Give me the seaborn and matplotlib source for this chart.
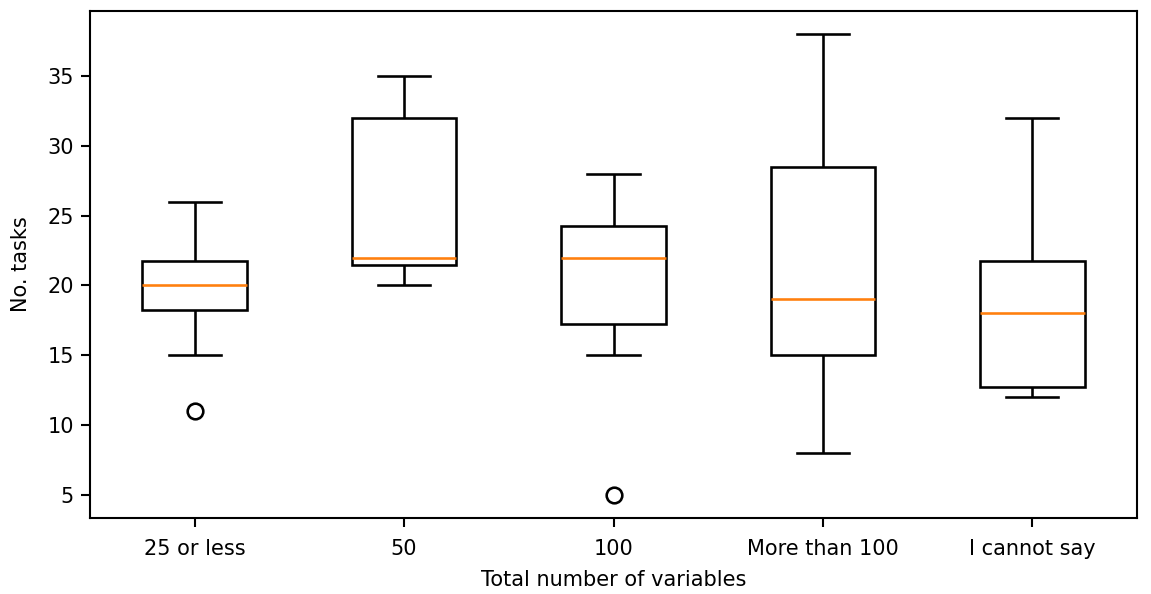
import matplotlib
matplotlib.use("Agg")
import matplotlib.pyplot as plt
import seaborn as sns
import pandas as pd

categories = ["25 or less", "50", "100", "More than 100", "I cannot say"]
tasks_25_or_less = [11, 15, 18, 19, 20, 20, 21, 22, 24, 26]
tasks_50 = [20, 21, 22, 22, 30, 34, 35]
tasks_100 = [5, 15, 17, 18, 22, 22, 22, 25, 26, 28]
tasks_more_than_100 = [8, 14, 16, 19, 25, 32, 38]
tasks_cannot_say = [12, 12, 15, 21, 22, 32]

groups = [tasks_25_or_less, tasks_50, tasks_100, tasks_more_than_100, tasks_cannot_say]
rows = []
for cat, vals in zip(categories, groups):
    for v in vals:
        rows.append({"Total number of variables": cat, "No. tasks": v})
df = pd.DataFrame(rows)

plt.rcParams["font.family"] = ["DejaVu Sans"]
plt.rcParams["axes.linewidth"] = 1.0
fig = plt.figure(figsize=(1151 / 150, 594 / 150), dpi=150)
ax = fig.add_axes([90 / 1151, 1 - 518 / 594, (1137 - 90) / 1151, (518 - 11) / 594])

sns.boxplot(
    data=df, x="Total number of variables", y="No. tasks", order=categories,
    ax=ax, color="white", linecolor="black", linewidth=1.25, width=0.5,
    whis=1.5,
    medianprops={"color": "#ff7f0e", "linewidth": 1.25},
    flierprops={"marker": "o", "markerfacecolor": "none", "markeredgecolor": "black",
                "markersize": 7.5, "markeredgewidth": 1.25},
)
ax.set_yticks([5, 10, 15, 20, 25, 30, 35])
ax.set_xlabel("Total number of variables", fontsize=10, labelpad=5)
ax.set_ylabel("No. tasks", fontsize=10, labelpad=8)
ax.tick_params(labelsize=10, length=4.2, width=1.0)
ax.tick_params(axis="x", pad=6)
ax.margins(y=0.05)
fig.savefig("out.png", dpi=150, facecolor="white")
